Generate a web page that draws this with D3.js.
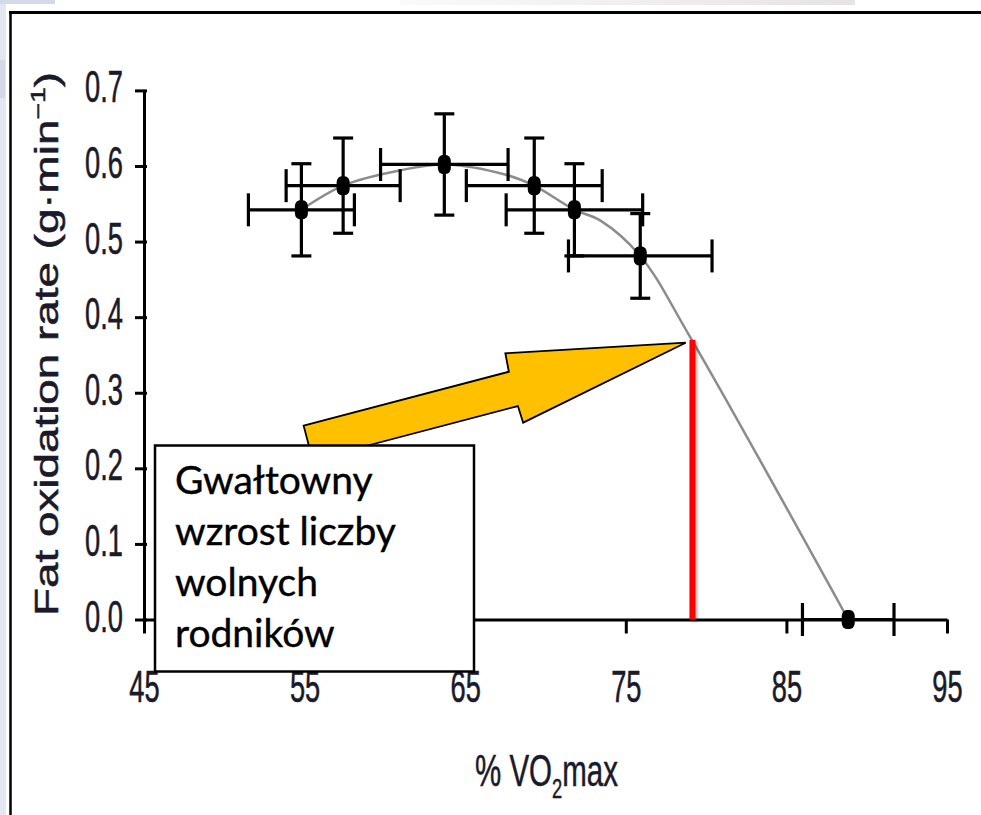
<!DOCTYPE html>
<html>
<head>
<meta charset="utf-8">
<script src="https://cdn.jsdelivr.net/npm/d3@7"></script>
<style>
    body { margin: 0; background: #fff; }
    svg { display: block; }
</style>
</head>
<body>
<svg id="chart"></svg>
<script>
// dane
const xTicks = [45, 55, 65, 75, 85, 95];
const yTicks = [0.0, 0.1, 0.2, 0.3, 0.4, 0.5, 0.6, 0.7];

// punkty pomiarowe ze słupkami błędów
const pointX = [54.8, 57.4, 63.7, 69.3, 71.8, 75.9, 88.85];
const pointY = [0.542, 0.574, 0.602, 0.574, 0.542, 0.481, 0.0];
const xErr = [3.3, 3.55, 3.97, 4.23, 4.25, 4.47, 2.85];
const yErr = [0.061, 0.063, 0.067, 0.063, 0.061, 0.056, 0.0];

// dopasowana krzywa (szara linia)
const fitX = [54.8, 57.4, 60.9, 63.7, 67.6, 69.3, 71.8, 73.4, 75.9, 79.0, 88.85];
const fitY = [0.542, 0.574, 0.594, 0.602, 0.588, 0.574, 0.542, 0.528, 0.481, 0.374, 0.0];

// czerwona linia i strzałka
const markerX = 79.15, markerY = 0.370;
const arrowX = [54.94, 67.72, 67.50, 78.73, 68.61, 68.28, 55.50];
const arrowY = [0.2564, 0.3278, 0.3522, 0.3662, 0.2604, 0.2824, 0.2110];

const noteLines = ['Gwałtowny', 'wzrost liczby', 'wolnych', 'rodników'];

const W = 981, H = 815;
const svg = d3.select('#chart').attr('width', W).attr('height', H);
const defs = svg.append('defs');

// tło / ramka slajdu
svg.append('rect').attr('x', 0).attr('y', 0).attr('width', 6).attr('height', H).attr('fill', '#e3e7f1');
svg.append('rect').attr('x', 0).attr('y', 60).attr('width', 5).attr('height', 38).attr('fill', '#d3d9e7');
svg.append('rect').attr('x', 0).attr('y', 0).attr('width', 55).attr('height', 4).attr('fill', '#d3d9e8');
const grad = defs.append('linearGradient').attr('id', 'topbar');
grad.append('stop').attr('offset', '0%').attr('stop-color', '#fafafa');
grad.append('stop').attr('offset', '100%').attr('stop-color', '#e6e4e2');
svg.append('rect').attr('x', 400).attr('y', 0).attr('width', 455).attr('height', 5).attr('fill', 'url(#topbar)');
svg.append('line').attr('x1', 9).attr('x2', W).attr('y1', 12.5).attr('y2', 12.5)
    .attr('stroke', '#000').attr('stroke-width', 3);
svg.append('line').attr('x1', 10.5).attr('x2', 10.5).attr('y1', 11).attr('y2', H)
    .attr('stroke', '#000').attr('stroke-width', 2.5);

const shadow = defs.append('filter').attr('id', 'shadow')
    .attr('filterUnits', 'userSpaceOnUse')
    .attr('x', 600).attr('y', 300).attr('width', 200).attr('height', 360);
shadow.append('feDropShadow').attr('dx', 2).attr('dy', 2).attr('stdDeviation', 1.5)
    .attr('flood-color', '#000').attr('flood-opacity', 0.3);

// skale
const x = d3.scaleLinear().domain([45, 95]).range([144, 947]);
const y = d3.scaleLinear().domain([0, 0.7]).range([619.5, 90.4]);

const labelFont = 'Liberation Sans, Arial, sans-serif';
const ink = '#1a1a2a';

// oś X
const xAxisG = svg.append('g')
    .attr('transform', `translate(0,${y(0)})`)
    .call(d3.axisBottom(x).tickValues(xTicks).tickSize(14).tickSizeOuter(0).tickFormat(d3.format('d')));
xAxisG.select('.domain').attr('stroke-width', 3);
xAxisG.selectAll('.tick line').attr('stroke-width', 3);
xAxisG.selectAll('.tick text')
    .attr('y', null).attr('dy', null)
    .attr('font-family', labelFont).attr('font-size', 44).attr('fill', ink)
    .attr('stroke', ink).attr('stroke-width', 0.6)
    .attr('text-anchor', 'middle')
    .attr('transform', 'translate(0,82) scale(0.62,1)');

// oś Y
const yAxisG = svg.append('g')
    .attr('transform', `translate(${x(45)},0)`)
    .call(d3.axisLeft(y).tickValues(yTicks).tickSize(9).tickSizeOuter(0).tickFormat(d3.format('.1f')));
yAxisG.select('.domain').attr('stroke-width', 3);
yAxisG.selectAll('.tick line').attr('stroke-width', 3).attr('x1', 3);
yAxisG.selectAll('.tick text')
    .attr('x', null).attr('dy', null)
    .attr('font-family', labelFont).attr('font-size', 44).attr('fill', ink)
    .attr('stroke', ink).attr('stroke-width', 0.6)
    .attr('text-anchor', 'end')
    .attr('transform', 'translate(-21,11.5) scale(0.62,1)');

// tytuł osi Y
const yTitle = svg.append('text')
    .attr('font-family', labelFont).attr('font-size', 34).attr('fill', ink)
    .attr('stroke', ink).attr('stroke-width', 0.5)
    .attr('text-anchor', 'middle');
yTitle.append('tspan').text('Fat oxidation rate (g\u00b7min');
yTitle.append('tspan').attr('font-size', 21).attr('dy', -13).text('\u22121');
yTitle.append('tspan').attr('dy', 13).text(')');
const yLen = yTitle.node().getComputedTextLength();
yTitle.attr('transform', `translate(58,344) rotate(-90) scale(${544 / yLen},1)`);

// tytuł osi X
const xTitle = svg.append('text')
    .attr('font-family', labelFont).attr('font-size', 45).attr('fill', ink)
    .attr('stroke', ink).attr('stroke-width', 0.5)
    .attr('text-anchor', 'middle');
xTitle.append('tspan').text('% VO');
xTitle.append('tspan').attr('font-size', 28).attr('dy', 12).text('2');
xTitle.append('tspan').attr('dy', -12).text('max');
const xLen = xTitle.node().getComputedTextLength();
xTitle.attr('transform', `translate(${(x(45) + x(95)) / 2 + 1},786) scale(${143 / xLen},1)`);

// krzywa dopasowania
const fit = fitX.map((v, i) => [v, fitY[i]]);
svg.append('path')
    .datum(fit)
    .attr('fill', 'none')
    .attr('stroke', '#8c8c8c')
    .attr('stroke-width', 2.5)
    .attr('d', d3.line().x(d => x(d[0])).y(d => y(d[1])).curve(d3.curveCatmullRom.alpha(0.5)));

// słupki błędów
const pts = pointX.map((v, i) => ({ x: v, y: pointY[i], ex: xErr[i], ey: yErr[i] }));
const err = svg.append('g').attr('stroke', '#000').attr('stroke-width', 3.2);
pts.forEach(p => {
    const cx = x(p.x), cy = y(p.y);
    const x0 = x(p.x - p.ex), x1 = x(p.x + p.ex);
    err.append('line').attr('x1', x0).attr('x2', x1).attr('y1', cy).attr('y2', cy);
    err.append('line').attr('x1', x0).attr('x2', x0).attr('y1', cy - 16.5).attr('y2', cy + 16.5);
    err.append('line').attr('x1', x1).attr('x2', x1).attr('y1', cy - 16.5).attr('y2', cy + 16.5);
    if (p.ey > 0) {
        const y0 = y(p.y - p.ey), y1 = y(p.y + p.ey);
        err.append('line').attr('x1', cx).attr('x2', cx).attr('y1', y0).attr('y2', y1);
        err.append('line').attr('x1', cx - 10).attr('x2', cx + 10).attr('y1', y0).attr('y2', y0);
        err.append('line').attr('x1', cx - 10).attr('x2', cx + 10).attr('y1', y1).attr('y2', y1);
    }
});

// punkty
svg.append('g').selectAll('rect')
    .data(pts)
    .join('rect')
    .attr('x', d => x(d.x) - 6.5)
    .attr('y', d => y(d.y) - 9.5)
    .attr('width', 13)
    .attr('height', 19)
    .attr('rx', 5)
    .attr('ry', 6)
    .attr('fill', '#000');

// czerwona linia
svg.append('rect')
    .attr('x', x(markerX) - 3)
    .attr('y', y(markerY))
    .attr('width', 6)
    .attr('height', y(0) - y(markerY))
    .attr('fill', '#ff0000')
    .attr('filter', 'url(#shadow)');

// strzałka
svg.append('polygon')
    .attr('points', arrowX.map((v, i) => `${x(v)},${y(arrowY[i])}`).join(' '))
    .attr('fill', '#ffc000')
    .attr('stroke', '#000')
    .attr('stroke-width', 1.8)
    .attr('stroke-linejoin', 'miter');

// pole tekstowe
const box = svg.append('g');
box.append('rect')
    .attr('x', 155).attr('y', 445.5)
    .attr('width', 319).attr('height', 226)
    .attr('fill', '#fff').attr('stroke', '#000').attr('stroke-width', 2.5);
box.selectAll('text')
    .data(noteLines)
    .join('text')
    .attr('x', 175)
    .attr('y', (d, i) => 494 + i * 51)
    .attr('font-family', 'Lato, "Open Sans", sans-serif')
    .attr('font-size', 39)
    .attr('fill', '#000')
    .attr('stroke', '#000')
    .attr('stroke-width', 0.4)
    .text(d => d);
</script>
</body>
</html>
